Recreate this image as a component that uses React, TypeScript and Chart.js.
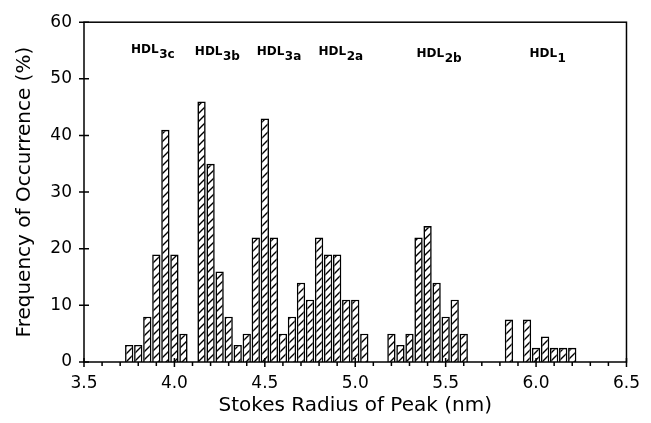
import React, { useEffect, useRef } from 'react';
import { Chart, registerables } from 'chart.js';

Chart.register(...registerables);

// Stokes radius of each histogram bin (nm)
const radius = [
  3.75, 3.8, 3.85, 3.9, 3.95, 4.0, 4.05,
  4.15, 4.2, 4.25, 4.3, 4.35, 4.4, 4.45, 4.5, 4.55, 4.6, 4.65,
  4.7, 4.75, 4.8, 4.85, 4.9, 4.95, 5.0, 5.05,
  5.2, 5.25, 5.3, 5.35, 5.4, 5.45, 5.5, 5.55, 5.6,
  5.85, 5.95, 6.0, 6.05, 6.1, 6.15, 6.2,
];
// Frequency of occurrence (%)
const frequency = [
  3, 3, 8, 19, 41, 19, 5,
  46, 35, 16, 8, 3, 5, 22, 43, 22, 5, 8,
  14, 11, 22, 19, 19, 11, 11, 5,
  5, 3, 5, 22, 24, 14, 8, 11, 5,
  7.5, 7.5, 2.5, 4.5, 2.5, 2.5, 2.5,
];

const xTicks = [3.5, 4.0, 4.5, 5.0, 5.5, 6.0, 6.5];
const xMinorTicks = [
  3.6, 3.7, 3.8, 3.9, 4.1, 4.2, 4.3, 4.4, 4.6, 4.7, 4.8, 4.9,
  5.1, 5.2, 5.3, 5.4, 5.6, 5.7, 5.8, 5.9, 6.1, 6.2, 6.3, 6.4,
];
const yTicks = [0, 10, 20, 30, 40, 50, 60];

const peakNames = ['HDL', 'HDL', 'HDL', 'HDL', 'HDL', 'HDL'];
const peakSubs = ['3c', '3b', '3a', '2a', '2b', '1'];
const peakX = [3.76, 4.113, 4.455, 4.797, 5.339, 5.963];
const peakY = [54.6, 54.2, 54.2, 54.2, 53.9, 53.9];

const FONT = '"DejaVu Sans", "Liberation Sans", sans-serif';

function makeHatch(): CanvasPattern | string {
  const c = document.createElement('canvas');
  c.width = 8;
  c.height = 8;
  const g = c.getContext('2d');
  if (!g) return '#fff';
  g.fillStyle = '#fff';
  g.fillRect(0, 0, 8, 8);
  g.strokeStyle = '#000';
  g.lineWidth = 1.4;
  g.beginPath();
  g.moveTo(-1, 9);
  g.lineTo(9, -1);
  g.moveTo(-5, 5);
  g.lineTo(5, -5);
  g.moveTo(3, 13);
  g.lineTo(13, 3);
  g.stroke();
  const p = g.createPattern(c, 'repeat');
  return p || '#fff';
}

const decorPlugin = {
  id: 'decor',
  afterDraw(chart: any) {
    const { ctx, chartArea, scales } = chart;
    const xs = scales.x;
    const ys = scales.y;
    ctx.save();
    ctx.strokeStyle = '#000';
    ctx.lineWidth = 1.5;
    ctx.strokeRect(chartArea.left, chartArea.top, chartArea.right - chartArea.left, chartArea.bottom - chartArea.top);
    ctx.beginPath();
    yTicks.forEach((v) => {
      const py = ys.getPixelForValue(v);
      ctx.moveTo(chartArea.left - 5, py);
      ctx.lineTo(chartArea.left + 5, py);
    });
    xTicks.forEach((v) => {
      const px = xs.getPixelForValue(v);
      ctx.moveTo(px, chartArea.bottom - 4);
      ctx.lineTo(px, chartArea.bottom + 5);
    });
    xMinorTicks.forEach((v) => {
      const px = xs.getPixelForValue(v);
      ctx.moveTo(px, chartArea.bottom);
      ctx.lineTo(px, chartArea.bottom + 4);
    });
    ctx.stroke();

    ctx.fillStyle = '#000';
    ctx.textBaseline = 'alphabetic';
    ctx.textAlign = 'left';
    peakNames.forEach((name, i) => {
      const px = xs.getPixelForValue(peakX[i]);
      const py = ys.getPixelForValue(peakY[i]);
      ctx.font = `bold 12px ${FONT}`;
      ctx.fillText(name, px, py);
      const w = ctx.measureText(name).width;
      ctx.font = `bold 12px ${FONT}`;
      ctx.fillText(peakSubs[i], px + w + 0.5, py + 5);
    });
    ctx.restore();
  },
};

export default function App() {
  const ref = useRef<HTMLCanvasElement | null>(null);

  useEffect(() => {
    if (!ref.current) return;
    const hatch = makeHatch();
    const chart = new Chart(ref.current, {
      type: 'bar',
      data: {
        datasets: [
          {
            data: radius.map((r, i) => ({ x: r, y: frequency[i] })),
            backgroundColor: hatch as any,
            borderColor: '#000',
            borderWidth: 1.6,
            barPercentage: 0.92,
            categoryPercentage: 1,
          },
        ],
      },
      options: {
        animation: false,
        responsive: false,
        devicePixelRatio: 1,
        layout: { padding: { top: 20, right: 14, left: 0, bottom: 0 } },
        plugins: { legend: { display: false }, tooltip: { enabled: false } },
        scales: {
          x: {
            type: 'linear',
            min: 3.5,
            max: 6.5,
            offset: false,
            grid: { display: false, drawTicks: false },
            border: { display: false },
            afterBuildTicks: (s: any) => {
              s.ticks = xTicks.map((v) => ({ value: v }));
            },
            afterFit: (s: any) => {
              s.height = 61;
            },
            ticks: {
              padding: 11,
              color: '#000',
              autoSkip: false,
              maxRotation: 0,
              font: { family: FONT, size: 17 },
              callback: (v: any) => Number(v).toFixed(1),
            },
            title: {
              display: true,
              text: 'Stokes Radius of Peak (nm)',
              color: '#000',
              font: { family: FONT, size: 20 },
              padding: { top: 0, bottom: 5 },
            },
          },
          y: {
            min: 0,
            max: 60,
            grid: { display: false, drawTicks: false },
            border: { display: false },
            afterBuildTicks: (s: any) => {
              s.ticks = yTicks.map((v) => ({ value: v }));
            },
            afterFit: (s: any) => {
              s.width = 84;
            },
            ticks: {
              padding: 12,
              color: '#000',
              font: { family: FONT, size: 17 },
            },
            title: {
              display: true,
              text: 'Frequency of Occurrence (%)',
              color: '#000',
              font: { family: FONT, size: 20 },
              padding: { top: 13, bottom: 0 },
            },
          },
        },
      },
      plugins: [decorPlugin],
    });
    return () => chart.destroy();
  }, []);

  return (
    <div style={{ position: 'fixed', left: 0, top: 0, width: 651, height: 423, background: '#fff' }}>
      <canvas ref={ref} width={651} height={423} />
    </div>
  );
}
